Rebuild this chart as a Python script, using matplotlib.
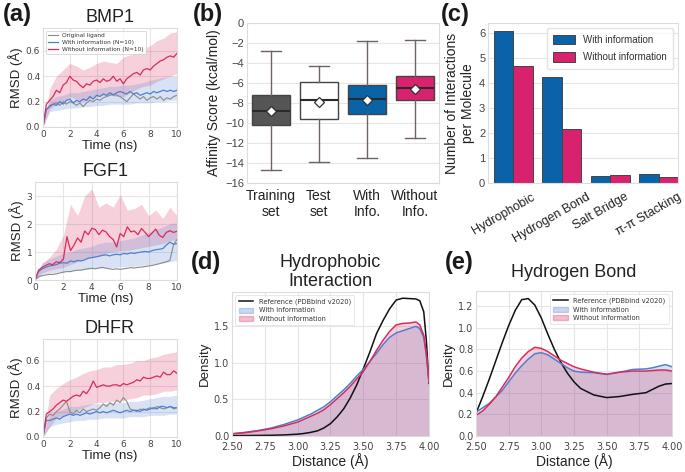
import matplotlib
matplotlib.use("Agg")
import matplotlib.pyplot as plt
import matplotlib.transforms as mtransforms
from matplotlib.patches import Patch
from matplotlib.lines import Line2D

plt.rcParams['font.family'] = ['Liberation Sans', 'DejaVu Sans']
plt.rcParams['axes.unicode_minus'] = True

# ---------------- data ----------------
# (a) RMSD time series
t_line = [i * 0.25 for i in range(41)]
t_band = [i * 0.5 for i in range(21)]

bmp1_without = [0.00, .18, .21, .24, .29, .27, .33, .35, .40, .37, .36, .33, .31, .34, .33, .36, .37, .35, .38, .36,
                .37, .40, .36, .38, .34, .38, .40, .42, .43, .41, .45, .46, .45, .48, .50, .52, .53, .55, .56, .55, .58]
bmp1_with = [0.00, .14, .16, .18, .17, .20, .18, .21, .22, .19, .21, .20, .22, .21, .24, .22, .25, .24, .26, .25,
             .27, .25, .27, .28, .27, .26, .28, .26, .27, .25, .26, .27, .26, .28, .27, .28, .29, .28, .29, .28, .29]
bmp1_orig = [0.00, .13, .17, .18, .19, .17, .20, .18, .20, .19, .17, .19, .16, .19, .21, .20, .22, .21, .23, .24,
             .25, .26, .25, .24, .22, .20, .23, .26, .24, .22, .24, .21, .23, .24, .22, .24, .21, .23, .22, .24, .25]
bmp1_without_lo = [0, .14, .18, .20, .24, .22, .20, .22, .24, .25, .25, .24, .24, .27, .30, .32, .33, .36, .38, .40, .42]
bmp1_without_hi = [0, .30, .40, .45, .50, .48, .45, .47, .50, .52, .51, .50, .55, .57, .58, .62, .64, .68, .70, .74, .75]
bmp1_with_lo = [0, .12, .13, .14, .15, .15, .16, .16, .17, .17, .18, .18, .18, .18, .19, .19, .19, .20, .20, .21, .21]
bmp1_with_hi = [0, .21, .24, .25, .27, .27, .28, .29, .30, .31, .32, .32, .33, .33, .34, .35, .37, .38, .39, .40, .40]

fgf1_without = [0.00, .35, .45, .52, .58, .55, .65, .62, .75, 1.55, 1.05, 1.25, 1.50, 1.35, 1.75, 1.62, 1.85, 1.80, 1.62, 1.78,
                1.72, 1.55, 1.45, 1.18, 1.66, 1.55, 1.90, 1.72, 1.75, 1.62, 1.84, 1.70, 1.55, 1.68, 1.82, 1.60, 1.52, 1.70, 1.76, 1.70, 1.74]
fgf1_with = [0.00, .30, .40, .45, .50, .52, .55, .60, .62, .60, .68, .65, .70, .68, .72, .78, .80, .82, .85, .88,
             .90, .86, .90, .92, .90, .95, .93, .97, .95, .98, 1.00, 1.02, 1.00, 1.05, 1.08, 1.10, 1.12, 1.25, 1.35, 1.28, 1.30]
fgf1_orig = [0.00, .12, .15, .18, .20, .20, .22, .25, .28, .30, .30, .33, .35, .35, .38, .40, .42, .40, .43, .45,
             .42, .40, .38, .40, .38, .40, .42, .44, .43, .45, .46, .48, .50, .52, .55, .58, .62, .65, .70, 1.25, 1.45]
fgf1_without_lo = [0, .25, .35, .40, .45, .55, .65, .75, .80, .85, .95, 1.00, 1.05, 1.05, 1.10, 1.15, 1.20, 1.25, 1.30, 1.40, 1.45]
fgf1_without_hi = [0.05, .60, .80, 1.10, 1.60, 2.70, 2.30, 3.00, 3.25, 2.60, 2.75, 2.60, 3.05, 2.50, 2.55, 2.70, 2.30, 2.50, 2.20, 2.60, 2.30]
fgf1_with_lo = [0, .20, .25, .28, .30, .33, .35, .38, .40, .42, .45, .45, .47, .48, .50, .52, .55, .58, .60, .65, .70]
fgf1_with_hi = [0.05, .60, .75, .85, .95, 1.00, 1.10, 1.15, 1.20, 1.30, 1.35, 1.35, 1.40, 1.45, 1.50, 1.60, 1.70, 1.80, 1.90, 2.00, 2.05]

dhfr_without = [0.00, .18, .20, .22, .25, .27, .29, .28, .30, .32, .33, .32, .36, .34, .38, .44, .39, .40, .41, .40,
                .40, .41, .41, .40, .42, .41, .42, .43, .45, .44, .47, .46, .46, .47, .48, .47, .51, .49, .49, .52, .50]
dhfr_with = [0.00, .13, .13, .14, .15, .14, .16, .17, .18, .17, .18, .17, .18, .19, .18, .19, .20, .19, .20, .19,
             .20, .21, .20, .19, .20, .21, .20, .21, .21, .20, .22, .21, .22, .23, .22, .24, .24, .23, .24, .23, .23]
dhfr_orig = [0.00, .15, .18, .17, .20, .22, .25, .28, .20, .18, .21, .19, .22, .20, .21, .22, .21, .23, .26, .24,
             .27, .25, .29, .27, .31, .28, .22, .21, .20, .22, .21, .22, .23, .22, .24, .23, .22, .23, .24, .22, .23]
dhfr_without_lo = [0, .08, .15, .17, .19, .21, .23, .25, .27, .27, .28, .28, .29, .30, .31, .33, .33, .34, .36, .36, .37]
dhfr_without_hi = [0, .33, .38, .42, .45, .47, .50, .52, .53, .55, .55, .57, .57, .58, .60, .60, .62, .63, .65, .66, .67]
dhfr_with_lo = [0, .08, .10, .11, .12, .13, .13, .14, .14, .15, .15, .15, .15, .16, .16, .16, .17, .17, .17, .18, .18]
dhfr_with_hi = [0, .18, .20, .22, .24, .24, .25, .26, .26, .26, .27, .27, .27, .28, .28, .29, .30, .31, .32, .32, .33]

# (b) affinity score box statistics
box_labels = ["Training\nset", "Test\nset", "With\nInfo.", "Without\nInfo."]
box_whislo = [-14.7, -13.9, -13.5, -11.5]
box_q1 = [-10.2, -9.6, -9.1, -7.7]
box_med = [-8.75, -7.7, -7.6, -6.5]
box_q3 = [-7.2, -5.9, -6.2, -5.3]
box_whishi = [-2.8, -4.3, -1.75, -1.7]
box_mean = [-8.8, -7.9, -7.7, -6.55]

# (c) interactions per molecule
inter_types = ["Hydrophobic", "Hydrogen Bond", "Salt Bridge", "π-π Stacking"]
inter_with = [6.08, 4.24, 0.28, 0.37]
inter_without = [4.70, 2.15, 0.31, 0.24]

# (d) hydrophobic distance density
d_x = [2.5, 2.6, 2.7, 2.8, 2.9, 3.0, 3.05, 3.1, 3.15, 3.2, 3.25, 3.3, 3.35, 3.4, 3.45, 3.5, 3.55, 3.6, 3.65,
       3.7, 3.75, 3.8, 3.85, 3.9, 3.93, 3.96, 3.98, 4.0]
d_ref = [.005, .006, .008, .01, .015, .025, .035, .05, .07, .11, .17, .26, .37, .52, .70, .92, 1.15, 1.40, 1.58,
         1.74, 1.86, 1.885, 1.88, 1.875, 1.85, 1.70, 1.30, .72]
d_with = [.03, .05, .075, .11, .16, .22, .26, .30, .35, .40, .47, .55, .63, .72, .82, .91, 1.02, 1.13, 1.25,
          1.35, 1.41, 1.44, 1.47, 1.50, 1.47, 1.35, 1.10, .74]
d_without = [.03, .045, .07, .10, .14, .19, .23, .27, .31, .36, .43, .51, .59, .68, .78, .88, 1.02, 1.17, 1.31,
             1.43, 1.52, 1.54, 1.545, 1.56, 1.52, 1.38, 1.12, .74]

# (e) hydrogen bond distance density
e_x = [2.5, 2.55, 2.6, 2.65, 2.7, 2.75, 2.8, 2.85, 2.9, 2.95, 3.0, 3.05, 3.1, 3.15, 3.2, 3.25, 3.3, 3.4, 3.5,
       3.6, 3.7, 3.8, 3.85, 3.9, 3.95, 4.0]
e_ref = [.21, .36, .52, .69, .86, 1.02, 1.16, 1.26, 1.27, 1.21, 1.09, .94, .80, .68, .58, .50, .44, .38, .355,
         .365, .385, .40, .43, .46, .48, .485]
e_with = [.22, .26, .30, .36, .42, .50, .58, .65, .71, .76, .77, .75, .71, .67, .63, .60, .59, .585, .57,
          .59, .615, .62, .63, .645, .66, .64]
e_without = [.19, .23, .29, .36, .45, .54, .64, .72, .78, .82, .81, .78, .74, .70, .67, .64, .62, .59, .57,
             .59, .60, .60, .605, .61, .61, .60]

# ---------------- styling ----------------
W, H = 685, 472
RED = "#d92b5c"
BLUE = "#4f7fd0"
GRAY = "#8a8a8a"
C_WITH = "#0a63a6"
C_WITHOUT = "#d9226d"
GRID = "#e6e6e6"
TXT = "#222222"
TICK = "#444444"

fig = plt.figure(figsize=(W / 100, H / 100), dpi=100)


def add_ax(x1, y1, x2, y2):
    return fig.add_axes([x1 / W, 1 - y2 / H, (x2 - x1) / W, (y2 - y1) / H])


def style(ax, tick_size=6.5, tick_font='DejaVu Sans', xgrid=True, ygrid=True):
    ax.set_facecolor('white')
    for s in ax.spines.values():
        s.set_color('#dddddd')
        s.set_linewidth(0.8)
    ax.tick_params(length=0, labelsize=tick_size, colors=TICK, pad=2)
    for lab in ax.get_xticklabels() + ax.get_yticklabels():
        lab.set_family(tick_font)
    ax.set_axisbelow(True)
    if xgrid:
        ax.xaxis.grid(True, color=GRID, lw=0.8)
    if ygrid:
        ax.yaxis.grid(True, color=GRID, lw=0.8)


# ---------------- (a) ----------------
a_panels = [
    ("BMP1", (43, 28, 177, 127), bmp1_orig, bmp1_with, bmp1_without, bmp1_with_lo, bmp1_with_hi,
     bmp1_without_lo, bmp1_without_hi, 0.78, [0.0, 0.2, 0.4, 0.6], "{:.1f}"),
    ("FGF1", (35, 182, 177, 280), fgf1_orig, fgf1_with, fgf1_without, fgf1_with_lo, fgf1_with_hi,
     fgf1_without_lo, fgf1_without_hi, 3.5, [0, 1, 2, 3], "{:.0f}"),
    ("DHFR", (43, 339, 177, 437), dhfr_orig, dhfr_with, dhfr_without, dhfr_with_lo, dhfr_with_hi,
     dhfr_without_lo, dhfr_without_hi, 0.77, [0.0, 0.2, 0.4, 0.6], "{:.1f}"),
]
for i, (name, box, orig, wi, wo, wlo, whi, olo, ohi, ytop, yt, fmt) in enumerate(a_panels):
    ax = add_ax(*box)
    ax.fill_between(t_band, olo, ohi, color=RED, alpha=0.22, lw=0)
    ax.fill_between(t_band, wlo, whi, color=BLUE, alpha=0.22, lw=0)
    l1, = ax.plot(t_line, orig, color=GRAY, lw=0.8, label="Original ligand")
    l2, = ax.plot(t_line, wi, color=BLUE, lw=0.9, label="With information (N=10)")
    l3, = ax.plot(t_line, wo, color=RED, lw=0.9, label="Without information (N=10)")
    ax.set_xlim(0, 10)
    ax.set_ylim(0, ytop)
    ax.set_xticks([0, 2, 4, 6, 8, 10])
    ax.set_yticks(yt)
    ax.set_yticklabels([fmt.format(v) for v in yt])
    style(ax)
    ax.set_title(name, fontsize=13, color=TXT, pad=4)
    ax.set_xlabel("Time (ns)", fontsize=9.5, color=TXT, labelpad=1)
    ax.set_ylabel("RMSD (Å)", fontsize=9.5, color=TXT, labelpad=2)
    if i == 0:
        leg = ax.legend(handles=[l1, l2, l3], loc='upper left', frameon=True,
                        handlelength=1.6, borderpad=0.4, labelspacing=0.3,
                        prop={'family': 'DejaVu Sans', 'size': 4.2})
        leg.get_frame().set_edgecolor('#cccccc')
        leg.get_frame().set_linewidth(0.6)
        for txt in leg.get_texts():
            txt.set_color('#333333')

# ---------------- (b) ----------------
axb = add_ax(247, 23, 439, 183)
stats = []
for i in range(len(box_labels)):
    stats.append(dict(med=box_med[i], q1=box_q1[i], q3=box_q3[i], whislo=box_whislo[i],
                      whishi=box_whishi[i], mean=box_mean[i], fliers=[]))
box_faces = ["#555555", "#ffffff", C_WITH, C_WITHOUT]
bp = axb.bxp(stats, positions=range(len(box_labels)), widths=0.8, patch_artist=True, showmeans=True,
             showfliers=False, capwidths=0.4,
             boxprops=dict(edgecolor='#444444', linewidth=1.0),
             medianprops=dict(color='#2a2a2a', linewidth=1.5),
             whiskerprops=dict(color='#6e6262', linewidth=1.0),
             capprops=dict(color='#6e6262', linewidth=1.0),
             meanprops=dict(marker='D', markerfacecolor='white', markeredgecolor='#333333',
                            markersize=5.5, markeredgewidth=0.9))
for patch, fc in zip(bp['boxes'], box_faces):
    patch.set_facecolor(fc)
axb.set_xlim(-0.5, 3.5)
axb.set_ylim(-16, 0)
axb.set_yticks(range(-16, 1, 2))
axb.set_xticks(range(len(box_labels)))
axb.set_xticklabels(box_labels)
style(axb, tick_size=8, tick_font='Liberation Sans', xgrid=False)
for lab in axb.get_xticklabels():
    lab.set_fontsize(10)
    lab.set_color(TXT)
axb.tick_params(axis='x', pad=4)
axb.set_ylabel("Affinity Score (kcal/mol)", fontsize=10, color=TXT, labelpad=3)

# ---------------- (c) ----------------
axc = add_ax(488, 23, 678, 183)
xs = list(range(len(inter_types)))
axc.bar([x - 0.2 for x in xs], inter_with, width=0.4, color=C_WITH, edgecolor='#444444', lw=0.7,
        label="With information")
axc.bar([x + 0.2 for x in xs], inter_without, width=0.4, color=C_WITHOUT, edgecolor='#444444', lw=0.7,
        label="Without information")
axc.set_xlim(-0.52, 3.4)
axc.set_ylim(0, 6.4)
axc.set_yticks(range(0, 7))
axc.set_xticks(xs)
axc.set_xticklabels([])
style(axc, tick_size=8, tick_font='Liberation Sans', xgrid=False)
lab_trans = mtransforms.blended_transform_factory(axc.transData, axc.transAxes)
for x, name in zip(xs, inter_types):
    axc.text(x - 0.2, -0.05, name, transform=lab_trans, rotation=30, ha='center', va='top',
             fontsize=9, color=TXT)
axc.set_ylabel("Number of Interactions\nper Molecule", fontsize=10, color=TXT, labelpad=3)
legc = axc.legend(loc='upper right', frameon=True, borderpad=0.7, labelspacing=0.8,
                  handlelength=2.2, handleheight=1.1, prop={'family': 'Liberation Sans', 'size': 7})
legc.get_frame().set_edgecolor('#dddddd')
for txt in legc.get_texts():
    txt.set_color('#333333')


# ---------------- (d), (e) ----------------
def density_panel(box, x, ref, wi, wo, title, ytop, yt, legloc, tpad):
    ax = add_ax(*box)
    ax.fill_between(x, 0, wi, color=BLUE, alpha=0.22, lw=0)
    ax.fill_between(x, 0, wo, color=RED, alpha=0.22, lw=0)
    ax.plot(x, ref, color='#111111', lw=1.1)
    ax.plot(x, wi, color=BLUE, lw=1.1)
    ax.plot(x, wo, color=RED, lw=1.1)
    ax.set_xlim(2.5, 4.0)
    ax.set_ylim(0, ytop)
    ax.set_xticks([2.5, 2.75, 3.0, 3.25, 3.5, 3.75, 4.0])
    ax.set_xticklabels(["2.50", "2.75", "3.00", "3.25", "3.50", "3.75", "4.00"])
    ax.set_yticks(yt)
    ax.set_yticklabels(["{:.1f}".format(v) for v in yt])
    style(ax, tick_size=7)
    ax.tick_params(axis='x', pad=4)
    ax.set_title(title, fontsize=13, color=TXT, pad=tpad, linespacing=1.2)
    ax.set_xlabel("Distance (Å)", fontsize=10, color=TXT, labelpad=1)
    ax.set_ylabel("Density", fontsize=9.5, color=TXT, labelpad=2)
    handles = [Line2D([], [], color='#111111', lw=1.1),
               Patch(facecolor=BLUE, alpha=0.3, lw=1.0),
               Patch(facecolor=RED, alpha=0.3, lw=1.0)]
    handles[1].set_edgecolor(BLUE)
    handles[2].set_edgecolor(RED)
    leg = ax.legend(handles, ["Reference (PDBbind v2020)", "With information", "Without information"],
                    loc=legloc, frameon=True, handlelength=2.2, borderpad=0.5, labelspacing=0.35,
                    prop={'family': 'DejaVu Sans', 'size': 4.8})
    leg.get_frame().set_edgecolor('#dddddd')
    leg.get_frame().set_linewidth(0.6)
    for txt in leg.get_texts():
        txt.set_color('#333333')
    return ax


density_panel((232, 292, 429, 436), d_x, d_ref, d_with, d_without, "Hydrophobic\nInteraction", 1.97,
              [0.0, 0.5, 1.0, 1.5], 'upper left', 4)
density_panel((476, 291, 672, 436), e_x, e_ref, e_with, e_without, "Hydrogen Bond", 1.34,
              [0.0, 0.2, 0.4, 0.6, 0.8, 1.0, 1.2], 'upper right', 10)

# ---------------- panel letters ----------------
for lab, x, y in [("(a)", 3, 14), ("(b)", 193, 14), ("(c)", 441, 14), ("(d)", 191, 262), ("(e)", 445, 262)]:
    fig.text(x / W, 1 - y / H, lab, fontsize=17, fontweight='bold', color='#1a1a1a', va='center', ha='left')

fig.savefig("out.png", dpi=100)
